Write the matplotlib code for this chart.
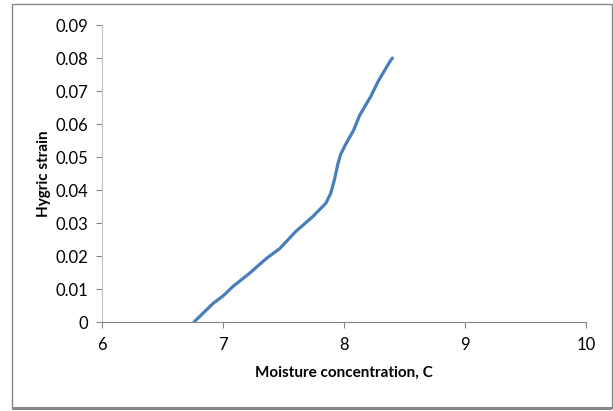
import matplotlib.pyplot as plt
from matplotlib.patches import Rectangle

plt.rcParams['font.family'] = ['Lato', 'DejaVu Sans']

# curve
moisture = [6.76, 6.92, 7.00, 7.08, 7.22, 7.36, 7.47, 7.60, 7.74, 7.85,
            7.89, 7.92, 7.95, 7.97, 8.01, 8.08, 8.13, 8.22, 8.28, 8.38, 8.40]
strain = [0.0, 0.0057, 0.0079, 0.0107, 0.0148, 0.0193, 0.0223, 0.0274, 0.0319, 0.0360,
          0.0390, 0.0430, 0.0480, 0.0506, 0.0536, 0.0582, 0.0627, 0.0683, 0.0728, 0.0790, 0.0800]

x_ticks = [6, 7, 8, 9, 10]
y_ticks = [0, 0.01, 0.02, 0.03, 0.04, 0.05, 0.06, 0.07, 0.08, 0.09]
y_tick_labels = ['0', '0.01', '0.02', '0.03', '0.04', '0.05', '0.06', '0.07', '0.08', '0.09']

fig = plt.figure(figsize=(6.13, 4.11), dpi=100)
ax = fig.add_axes([0.1664, 0.2165, 0.7896, 0.7225])

ax.plot(moisture, strain, color='#4A7EBB', linewidth=2.3, solid_capstyle='round')

ax.set_xlim(6, 10)
ax.set_ylim(0, 0.09)
ax.set_xticks(x_ticks)
ax.set_xticklabels([str(v) for v in x_ticks])
ax.set_yticks(y_ticks)
ax.set_yticklabels(y_tick_labels)

for side in ['top', 'right']:
    ax.spines[side].set_visible(False)
ax.spines['left'].set_color('#BFBFBF')
ax.spines['bottom'].set_color('#868686')
ax.tick_params(axis='y', length=4, color='#868686', labelsize=12, pad=6)
ax.tick_params(axis='x', length=4, color='#868686', labelsize=12, pad=7)

ax.set_xlabel('Moisture concentration, C', fontsize=11, fontweight='bold', labelpad=9)
ax.set_ylabel('Hygric strain', fontsize=11, fontweight='bold', labelpad=3)

# chart frame like the spreadsheet export
fig.patches.append(Rectangle((12 / 613, 3 / 411), 600 / 613, 404 / 411,
                             transform=fig.transFigure, fill=False,
                             edgecolor='#868686', linewidth=1.0))
fig.patches.append(Rectangle((12 / 613, 1 / 411), 600 / 613, 3 / 411,
                             transform=fig.transFigure, color='#868686', linewidth=0))

fig.savefig('out.png', dpi=100)
